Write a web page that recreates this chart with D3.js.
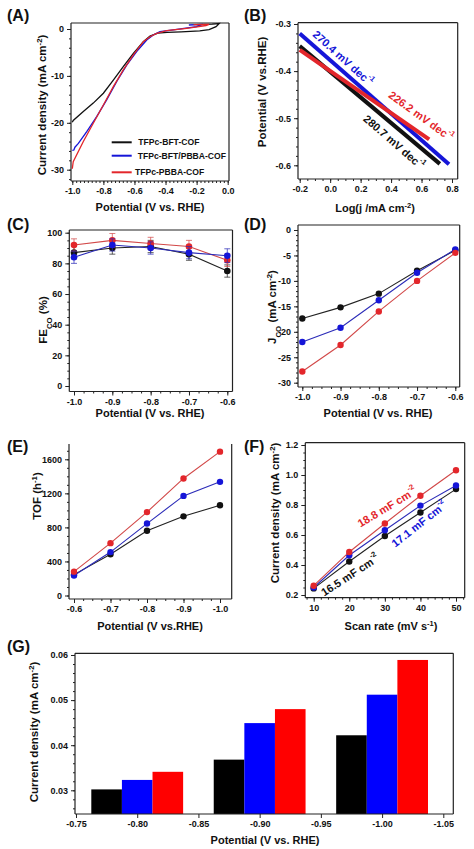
<!DOCTYPE html>
<html><head><meta charset="utf-8">
<script src="https://cdn.jsdelivr.net/npm/d3@7"></script>
<style>
body{margin:0;background:#fff}
text{font-family:Arial,"Liberation Sans",sans-serif;font-weight:bold;fill:#111}
</style>
</head><body>
<svg id="c" width="474" height="849"></svg>
<script>
// ---------------- DATA ----------------
const seriesNames = ["TFPc-BFT-COF", "TFPc-BFT/PBBA-COF", "TFPc-PBBA-COF"];
// (A) LSV curves [potential, current density]
const lsvBlack = [[-0.2,0.95],[-0.1,1.05],[-0.055,1.15],[-0.075,0.5],[-0.12,-0.15],[-0.18,-0.4],[-0.3,-0.6],[-0.39,-0.72],[-0.45,-0.9],[-0.5,-1.5],[-0.543,-2.7],[-0.607,-5.2],[-0.672,-8.0],[-0.736,-10.9],[-0.8,-13.7],[-0.865,-15.8],[-0.929,-17.6],[-0.994,-19.5],[-1.0,-19.9]];
const lsvBlue = [[-0.25,0.85],[-0.16,1.0],[-0.2,0.5],[-0.35,-0.2],[-0.436,-0.57],[-0.479,-1.28],[-0.521,-2.35],[-0.586,-4.8],[-0.65,-7.7],[-0.714,-11.2],[-0.779,-15.1],[-0.843,-18.7],[-0.907,-21.9],[-0.961,-24.4],[-0.983,-25.2],[-0.99,-25.8],[-1.0,-25.9]];
const lsvRed = [[-0.22,0.95],[-0.12,1.0],[-0.14,0.7],[-0.264,0.14],[-0.393,-0.36],[-0.457,-0.92],[-0.5,-1.64],[-0.543,-2.7],[-0.607,-5.5],[-0.672,-8.7],[-0.736,-12.3],[-0.8,-16.2],[-0.865,-20.1],[-0.929,-24.0],[-0.994,-28.3],[-1.0,-29.8]];
// (B) Tafel lines [log j, potential] endpoints
const tafelBlack = [[-0.2,-0.347],[0.72,-0.597]];
const tafelBlue = [[-0.2,-0.32],[0.78,-0.598]];
const tafelRed = [[-0.2,-0.355],[0.65,-0.545]];
const tafelLabels = ["280.7 mV dec", "270.4 mV dec", "226.2 mV dec"];
// (C) FE_CO
const potentials = [-1.0, -0.9, -0.8, -0.7, -0.6];
const feBlack = [87, 90, 91, 86, 75];
const feBlue = [84, 92, 90, 87, 85];
const feRed = [92, 95, 93, 91, 82];
const feErrBlack = [4, 4, 4, 4, 4];
const feErrBlue = [4, 4, 4, 4, 4.5];
const feErrRed = [4, 4.5, 4, 4, 4];
// (D) J_CO
const jcoBlack = [-17.4, -15.2, -12.5, -8.0, -4.0];
const jcoBlue = [-22.0, -19.2, -13.8, -8.4, -3.8];
const jcoRed = [-27.8, -22.6, -16.0, -10.0, -4.5];
// (E) TOF
const tofPotentials = [-0.6, -0.7, -0.8, -0.9, -1.0];
const tofBlack = [245, 485, 760, 930, 1060];
const tofBlue = [235, 510, 845, 1170, 1335];
const tofRed = [280, 615, 980, 1375, 1690];
// (F) Cdl
const scanRates = [10, 20, 30, 40, 50];
const cdlBlack = [0.244, 0.423, 0.593, 0.75, 0.906];
const cdlBlue = [0.25, 0.465, 0.632, 0.796, 0.93];
const cdlRed = [0.262, 0.487, 0.677, 0.862, 1.032];
const cdlLabels = ["16.5 mF cm", "17.1 mF cm", "18.8 mF cm"];
// (G) bars
const gPotentials = [-0.8, -0.9, -1.0];
const gBlack = [0.0302, 0.0368, 0.0422];
const gBlue = [0.0323, 0.0449, 0.0512];
const gRed = [0.0341, 0.0480, 0.0589];

// ---------------- DRAW ----------------
const svg = d3.select("#c");
svg.append("rect").attr("width",474).attr("height",849).attr("fill","#fff");
const C = {black:"#111111", blue:"#1515d8", red:"#e3262b"};
const CL = {black:"#222222", blue:"#2b2bb8", red:"#d24848"};
const f1 = d => d.toFixed(1), f0 = d => String(d), f2 = d => d.toFixed(2);

function rich(sel, parts, size) {
  parts.forEach(p => {
    const t = sel.append("tspan").text(p[0]);
    if (p[1] === "sup") t.attr("baseline-shift","super").attr("font-size", size*0.68);
    if (p[1] === "sub") t.attr("baseline-shift","sub").attr("font-size", size*0.68);
  });
  return sel;
}

function frame(p) {
  const g = svg.append("g");
  const {x, y, L, R, T, B} = p;
  const st = (s) => s.attr("stroke","#222").attr("stroke-width",1.2).attr("fill","none");
  const sides = p.sides || "LRTB";
  if (sides.includes("L")) st(g.append("line").attr("x1",L).attr("x2",L).attr("y1",T).attr("y2",B));
  if (sides.includes("R")) st(g.append("line").attr("x1",R).attr("x2",R).attr("y1",T).attr("y2",B));
  if (sides.includes("T")) st(g.append("line").attr("x1",L).attr("x2",R).attr("y1",T).attr("y2",T));
  if (sides.includes("B")) st(g.append("line").attr("x1",L).attr("x2",R).attr("y1",B).attr("y2",B));
  const fs = 9;
  // bottom axis
  const xa = g.append("g").attr("transform",`translate(0,${B})`)
    .call(d3.axisBottom(x).tickValues(p.xMajor).tickSize(4).tickPadding(3).tickFormat(p.xFmt));
  if (p.xMinor) g.append("g").attr("transform",`translate(0,${B})`)
    .call(d3.axisBottom(x).tickValues(p.xMinor).tickSize(2).tickFormat(""));
  const ya = g.append("g").attr("transform",`translate(${L},0)`)
    .call(d3.axisLeft(y).tickValues(p.yMajor).tickSize(4).tickPadding(3).tickFormat(p.yFmt));
  if (p.yMinor) g.append("g").attr("transform",`translate(${L},0)`)
    .call(d3.axisLeft(y).tickValues(p.yMinor).tickSize(2).tickFormat(""));
  g.selectAll(".domain").remove();
  g.selectAll(".tick line").attr("stroke","#222").attr("stroke-width",1);
  g.selectAll(".tick text").attr("font-size",fs).attr("font-family","Arial, 'Liberation Sans', sans-serif").attr("font-weight","bold").attr("fill","#111");
  return g;
}
function rng(a, b, s) { const out=[]; const n=Math.round((b-a)/s); for(let i=0;i<=n;i++) out.push(+(a+i*s).toFixed(6)); return out; }

function panelLabel(t, x, y) {
  svg.append("text").attr("x",x).attr("y",y).attr("font-size",16).text(t);
}
function xTitle(parts, cx, by, size=11) {
  rich(svg.append("text").attr("x",cx).attr("y",by).attr("text-anchor","middle").attr("font-size",size), parts, size);
}
function yTitle(parts, bx, cy, size=11.5) {
  rich(svg.append("text").attr("transform",`translate(${bx},${cy}) rotate(-90)`).attr("text-anchor","middle").attr("font-size",size), parts, size);
}
function markerSeries(x, y, xs, ys, key, r=3.2) {
  const pts = xs.map((v,i)=>[x(v), y(ys[i])]);
  svg.append("path").attr("d", d3.line()(pts)).attr("fill","none").attr("stroke",CL[key]).attr("stroke-width",1.1);
  svg.append("g").selectAll("circle").data(pts).join("circle")
    .attr("cx",d=>d[0]).attr("cy",d=>d[1]).attr("r",r).attr("fill",C[key]);
}

// ---- (A)
{
  const x = d3.scaleLinear().domain([-1,0]).range([72.3,227.7]);
  const y = d3.scaleLinear().domain([0,-30]).range([29,169.7]);
  const p = {x,y,L:71,R:229,T:23,B:181,xMajor:rng(-1,0,0.2),xMinor:rng(-1,0,0.025),yMajor:[0,-10,-20,-30],yMinor:rng(-32,0,2),xFmt:f1,yFmt:f0};
  frame(p);
  const line = d3.line().x(d=>x(d[0])).y(d=>y(d[1]));
  [["black",lsvBlack],["blue",lsvBlue],["red",lsvRed]].forEach(([k,d])=>{
    svg.append("path").attr("d",line(d)).attr("fill","none").attr("stroke",C[k]).attr("stroke-width",1.3);
  });
  const ly = [142.3,155.7,172.3], lx=[138.3,137.7,135];
  ["black","blue","red"].forEach((k,i)=>{
    svg.append("line").attr("x1",111.7).attr("x2",131.7).attr("y1",ly[i]).attr("y2",ly[i]).attr("stroke",C[k]).attr("stroke-width",2);
    svg.append("text").attr("x",lx[i]).attr("y",ly[i]).attr("dy","0.35em").attr("font-size",8.6).text(seriesNames[i]);
  });
  panelLabel("(A)",7,21);
  xTitle([["Potential (V vs. RHE)"]],150,211);
  yTitle([["Current density (mA cm"],["-2","sup"],[")"]],46,105);
}
// ---- (B)
{
  const x = d3.scaleLinear().domain([-0.2,0.8]).range([299.7,452]);
  const y = d3.scaleLinear().domain([-0.3,-0.6]).range([24,165.3]);
  frame({x,y,L:298,R:457.7,T:22.7,B:179,xMajor:rng(-0.2,0.8,0.2),xMinor:rng(-0.2,0.8,0.05),yMajor:[-0.3,-0.4,-0.5,-0.6],yMinor:rng(-0.6,-0.3,0.02),xFmt:f1,yFmt:f1});
  const line = d3.line().x(d=>x(d[0])).y(d=>y(d[1]));
  [["black",tafelBlack],["blue",tafelBlue],["red",tafelRed]].forEach(([k,d])=>{
    svg.append("path").attr("d",line(d)).attr("fill","none").attr("stroke",C[k]).attr("stroke-width",4);
  });
  const ann = [["black",394,142,41],["blue",343,58,42],["red",421,116,36]];
  ann.forEach(([k,cx,cy,a],i)=>{
    const t = svg.append("text").attr("transform",`translate(${cx},${cy}) rotate(${a})`).attr("text-anchor","middle").attr("dominant-baseline","central").attr("font-size",11).style("fill",C[k]);
    rich(t,[[tafelLabels[i]],["-1","sup"]],11);
  });
  panelLabel("(B)",244,21);
  xTitle([["Log(j /mA cm"],["-2","sup"],[")"]],375,212);
  yTitle([["Potential (V vs.RHE)"]],266,92);
}
// ---- (C)
{
  const x = d3.scaleLinear().domain([-1,-0.6]).range([74,227.3]);
  const y = d3.scaleLinear().domain([100,0]).range([232.7,386]);
  frame({x,y,L:69.3,R:232.5,T:230,B:391.5,xMajor:potentials,xMinor:rng(-1,-0.6,0.025),yMajor:[0,20,40,60,80,100],yMinor:rng(0,100,5),xFmt:f1,yFmt:f0});
  [["black",feBlack,feErrBlack],["red",feRed,feErrRed],["blue",feBlue,feErrBlue]].forEach(([k,v,e])=>{
    const g = svg.append("g");
    potentials.forEach((p,i)=>{
      const cx = x(p);
      g.append("line").attr("x1",cx).attr("x2",cx).attr("y1",y(v[i]-e[i])).attr("y2",y(v[i]+e[i])).attr("stroke",CL[k]).attr("stroke-width",0.9).attr("opacity",0.8);
      [v[i]-e[i], v[i]+e[i]].forEach(yy=>g.append("line").attr("x1",cx-3).attr("x2",cx+3).attr("y1",y(yy)).attr("y2",y(yy)).attr("stroke",CL[k]).attr("stroke-width",0.9).attr("opacity",0.8));
    });
    markerSeries(x,y,potentials,v,k,3.3);
  });
  panelLabel("(C)",7,230);
  xTitle([["Potential (V vs. RHE)"]],150,417);
  rich(svg.append("text").attr("transform",`translate(47,320) rotate(-90)`).attr("text-anchor","middle").attr("font-size",11.5),[["FE"],["CO","sub"],[" (%)"]],11.5);
}
// ---- (D)
{
  const x = d3.scaleLinear().domain([-1,-0.6]).range([302.3,455.3]);
  const y = d3.scaleLinear().domain([0,-30]).range([230,382.7]);
  frame({x,y,L:298,R:459.7,T:225,B:387,xMajor:potentials,xMinor:rng(-1,-0.6,0.025),yMajor:rng(-30,0,5),yMinor:rng(-30,0,1),xFmt:f1,yFmt:f0});
  markerSeries(x,y,potentials,jcoBlack,"black");
  markerSeries(x,y,potentials,jcoBlue,"blue");
  markerSeries(x,y,potentials,jcoRed,"red");
  panelLabel("(D)",244,230);
  xTitle([["Potential (V vs. RHE)"]],378,417);
  rich(svg.append("text").attr("transform",`translate(276,307) rotate(-90)`).attr("text-anchor","middle").attr("font-size",11.5),[["J"],["CO","sub"],[" (mA cm"],["-2","sup"],[")"]],11.5);
}
// ---- (E)
{
  const x = d3.scaleLinear().domain([-0.6,-1.0]).range([74,220]);
  const y = d3.scaleLinear().domain([0,1600]).range([595.5,459.3]);
  frame({x,y,L:69,R:231.7,T:444,B:599,sides:"LRB",xMajor:tofPotentials,xMinor:rng(-1,-0.6,0.025),yMajor:[0,400,800,1200,1600],yMinor:rng(0,1700,100),xFmt:f1,yFmt:f0});
  markerSeries(x,y,tofPotentials,tofBlack,"black");
  markerSeries(x,y,tofPotentials,tofBlue,"blue");
  markerSeries(x,y,tofPotentials,tofRed,"red");
  panelLabel("(E)",7,452);
  xTitle([["Potential (V vs.RHE)"]],150,630);
  yTitle([["TOF (h"],["-1","sup"],[")"]],41,496);
}
// ---- (F)
{
  const x = d3.scaleLinear().domain([10,50]).range([313.7,456]);
  const y = d3.scaleLinear().domain([0.2,1.2]).range([595,445]);
  frame({x,y,L:305.3,R:464.7,T:442.7,B:597.7,xMajor:scanRates,xMinor:rng(8,52,2),yMajor:rng(0.2,1.2,0.2),yMinor:rng(0.2,1.2,0.05),xFmt:f0,yFmt:f1});
  markerSeries(x,y,scanRates,cdlBlack,"black");
  markerSeries(x,y,scanRates,cdlBlue,"blue");
  markerSeries(x,y,scanRates,cdlRed,"red");
  const ann = [["black",350,575,-33],["blue",419,524,-38],["red",387,507,-31]];
  ann.forEach(([k,cx,cy,a],i)=>{
    const t = svg.append("text").attr("transform",`translate(${cx},${cy}) rotate(${a})`).attr("text-anchor","middle").attr("dominant-baseline","central").attr("font-size",11).style("fill",C[k]);
    rich(t,[[cdlLabels[i]],["-2","sup"]],11);
  });
  panelLabel("(F)",244,452);
  xTitle([["Scan rate (mV s"],["-1","sup"],[")"]],391,630);
  yTitle([["Current density (mA cm"],["-2","sup"],[")"]],279,513);
}
// ---- (G)
{
  const x = d3.scaleLinear().domain([-0.75,-1.05]).range([76,443.3]);
  const y = d3.scaleLinear().domain([0.03,0.06]).range([790.3,655]);
  const B = 814;
  const bw = 0.025;
  [["black",gBlack,bw],["blue",gBlue,0],["red",gRed,-bw]].forEach(([k,v,off])=>{
    svg.append("g").selectAll("rect").data(gPotentials).join("rect")
      .attr("x",d=>x(d+off+bw/2)).attr("width",d=>x(d+off-bw/2)-x(d+off+bw/2))
      .attr("y",(d,i)=>y(v[i])).attr("height",(d,i)=>B-y(v[i]))
      .attr("fill",k==="black"?"#000":k==="blue"?"#0000ff":"#ff0000");
  });
  frame({x,y,L:75,R:453.3,T:653.3,B,xMajor:rng(-1.05,-0.75,0.05),yMajor:[0.03,0.04,0.05,0.06],yMinor:rng(0.026,0.06,0.002),xFmt:f2,yFmt:f2});
  panelLabel("(G)",7,652);
  xTitle([["Potential (V vs. RHE)"]],265,844);
  yTitle([["Current density (mA cm"],["-2","sup"],[")"]],38,732);
}
</script>
</body></html>
